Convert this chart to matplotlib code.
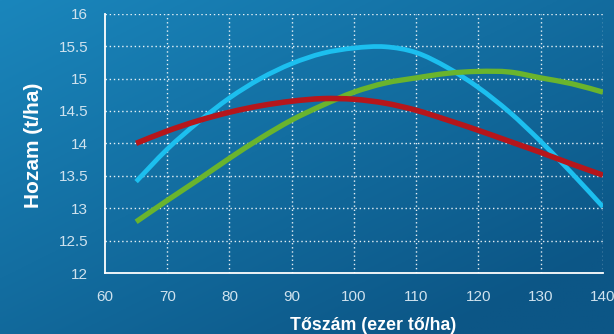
import numpy as np
import matplotlib
matplotlib.use('Agg')
import matplotlib.pyplot as plt
from matplotlib.path import Path
from matplotlib.patches import PathPatch

plt.rcParams['font.family'] = ['Liberation Sans', 'DejaVu Sans']

# Data
density = [65, 70, 75, 80, 85, 90, 95, 100, 105, 110, 115, 120, 125, 130, 135, 140]
yield_blue = [13.41, 13.91, 14.33, 14.70, 15.00, 15.23, 15.39, 15.47, 15.49, 15.40,
              15.17, 14.86, 14.48, 14.03, 13.54, 13.02]
yield_red = [14.00, 14.19, 14.35, 14.48, 14.58, 14.65, 14.69, 14.68, 14.62, 14.51,
             14.36, 14.20, 14.03, 13.86, 13.68, 13.51]
yield_green = [12.79, 13.12, 13.44, 13.77, 14.08, 14.36, 14.59, 14.79, 14.93, 15.01,
               15.08, 15.11, 15.10, 15.01, 14.92, 14.79]

xticks = [60, 70, 80, 90, 100, 110, 120, 130, 140]
yticks = [12, 12.5, 13, 13.5, 14, 14.5, 15, 15.5, 16]
ytick_labels = ['12', '12.5', '13', '13.5', '14', '14.5', '15', '15.5', '16']


def smooth_path(xs, ys):
    # smoothed line through the points (cardinal spline drawn as bezier segments)
    p = np.column_stack([xs, ys]).astype(float)
    n = len(p)
    verts = [p[0]]
    codes = [Path.MOVETO]
    for i in range(n - 1):
        p0 = p[max(i - 1, 0)]
        p1 = p[i]
        p2 = p[i + 1]
        p3 = p[min(i + 2, n - 1)]
        c1 = p1 + (p2 - p0) / 6
        c2 = p2 - (p3 - p1) / 6
        verts += [c1, c2, p2]
        codes += [Path.CURVE4] * 3
    return Path(verts, codes)


fig = plt.figure(figsize=(6.14, 3.34), dpi=100)

# Background gradient
bg = fig.add_axes([0, 0, 1, 1])
gx, gy = np.meshgrid(np.linspace(0, 1, 200), np.linspace(0, 1, 200))
t = np.clip(0.55 * gx + 0.6 * gy, 0, 1)
c0 = np.array([26, 134, 188]) / 255
c1 = np.array([12, 86, 134]) / 255
img = c0[None, None, :] * (1 - t[..., None]) + c1[None, None, :] * t[..., None]
bg.imshow(img, aspect='auto', extent=[0, 1, 0, 1], origin='upper')
bg.axis('off')

ax = fig.add_axes([0.171, 0.1826, 0.811, 0.7764])
ax.patch.set_alpha(0)

series = [(yield_blue, '#1cbfef', 3.4, 3),
          (yield_green, '#6ab42d', 3.8, 3),
          (yield_red, '#b5161b', 4.0, 4)]
for ys, col, lw, z in series:
    ax.add_patch(PathPatch(smooth_path(density, ys), fill=False, edgecolor=col,
                           lw=lw, capstyle='butt', zorder=z))

ax.set_xlim(60, 140)
ax.set_ylim(12, 16)
ax.set_xticks(xticks)
ax.set_yticks(yticks)
ax.set_yticklabels(ytick_labels)
ax.tick_params(length=0, pad=12, labelsize=11, labelcolor='#cfe2ee')

for x in xticks[1:]:
    ax.axvline(x, color='white', lw=1, ls=(0, (1, 2)), alpha=0.9, zorder=1)
for y in yticks[1:]:
    ax.axhline(y, color='white', lw=1, ls=(0, (1, 2)), alpha=0.9, zorder=1)

for s in ['top', 'right']:
    ax.spines[s].set_visible(False)
for s in ['left', 'bottom']:
    ax.spines[s].set_color('white')
    ax.spines[s].set_linewidth(1.3)

ax.set_xlabel('Tőszám (ezer tő/ha)', color='white', fontsize=12.8, fontweight='bold')
ax.set_ylabel('Hozam (t/ha)', color='white', fontsize=15, fontweight='bold')
ax.xaxis.set_label_coords(0.5376, -0.17)
ax.yaxis.set_label_coords(-0.125, 0.493)

fig.savefig('out.png', dpi=100)
